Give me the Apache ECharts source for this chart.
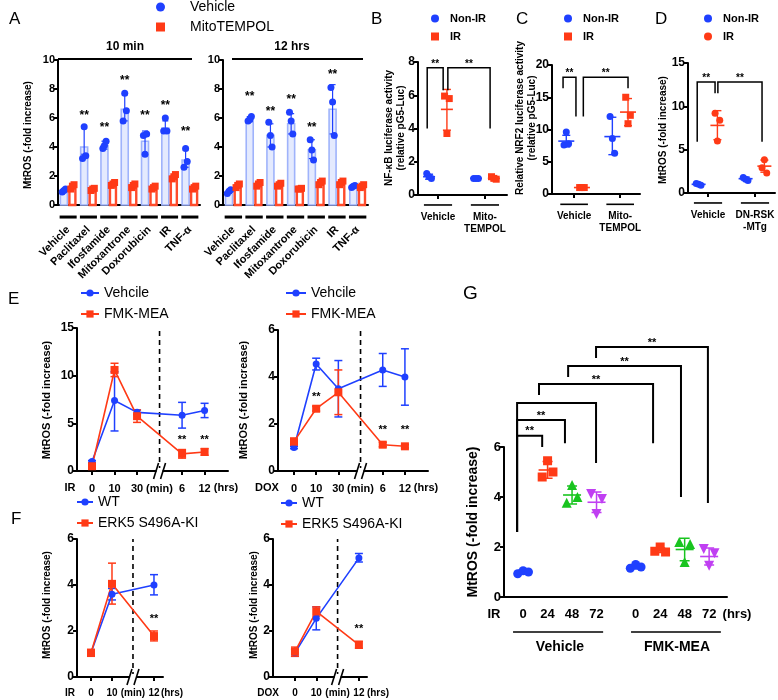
<!DOCTYPE html>
<html><head><meta charset="utf-8">
<script src="https://cdn.jsdelivr.net/npm/echarts@6/dist/echarts.min.js"></script>
<style>html,body{margin:0;padding:0;background:#fff}#c{width:778px;height:700px}</style>
</head><body><div id="c"></div>
<script>
// ================= DATA =================
// Panel A
const aCategories = ['Vehicle','Paclitaxel','Ifosfamide','Mitoxantrone','Doxorubicin','IR','TNF-α'];
const a10VehDots = [[0.9,1.0,1.1],[3.2,5.4,3.4],[3.9,4.1,4.4],[5.8,7.7,6.5],[4.8,3.5,4.9],[5.1,6.0,5.1],[2.6,3.9,3.0]];
const a10VehMean = [1.0,4.0,4.1,6.6,4.4,5.3,3.1];
const a10VehLo   = [0.9,3.5,3.85,5.8,3.6,5.0,2.6];
const a10VehHi   = [1.1,5.3,4.4,7.6,5.1,5.8,3.8];
const a10MitoDots = [[1.1,1.3,1.4],[1.0,1.1,1.15],[1.35,1.45,1.55],[1.2,1.35,1.45],[1.1,1.2,1.3],[1.8,1.95,2.1],[1.1,1.2,1.3]];
const a10MitoMean = [1.25,1.1,1.45,1.35,1.2,1.95,1.2];
const a10Stars = [null,6.3,5.5,8.7,6.3,7.0,5.2];
const a12VehDots = [[0.8,0.95,1.05],[5.8,5.9,6.1],[5.7,4.8,4.0],[6.4,5.8,4.9],[4.5,3.8,3.1],[8.1,7.1,4.8],[1.2,1.3,1.35]];
const a12VehMean = [0.9,5.9,4.8,5.6,3.8,6.6,1.3];
const a12VehLo   = [0.8,5.75,4.0,4.9,3.2,4.9,1.2];
const a12VehHi   = [1.0,6.1,5.6,6.3,4.5,8.3,1.4];
const a12MitoDots = [[1.2,1.35,1.45],[1.3,1.45,1.55],[1.3,1.4,1.5],[1.1,1.1,1.15],[1.4,1.55,1.65],[1.4,1.55,1.65],[1.2,1.3,1.4]];
const a12MitoMean = [1.3,1.4,1.4,1.1,1.5,1.5,1.3];
const a12Stars = [null,7.6,6.55,7.4,5.45,9.1,null];

// Panel B
const bLabels = ['Vehicle','Mito-\nTEMPOL'];
const bNonIRDots = [[1.3,1.1,1.0],[1.0,1.0,1.0]];
const bNonIRMean = [1.1,1.0], bNonIRLo = [0.95,0.97], bNonIRHi = [1.25,1.03];
const bIRDots = [[5.95,3.7,5.8],[1.1,1.0,0.95]];
const bIRMean = [5.15,1.0], bIRLo = [3.9,0.93], bIRHi = [6.35,1.08];
const bBrackets = [[0.77,1.11,7.65,4.0,6.3],[1.21,2.11,7.65,6.3,4.0]];

// Panel C
const cLabels = ['Vehicle','Mito-\nTEMPOL'];
const cNonIRDots = [[7.6,9.6,7.8],[12.0,8.6,6.3]];
const cNonIRMean = [8.2,8.9], cNonIRLo = [7.3,6.1], cNonIRHi = [9.1,11.9];
const cIRDots = [[1.0,1.0,1.0],[15.0,10.9,12.2]];
const cIRMean = [1.0,12.7], cIRLo = [0.9,10.6], cIRHi = [1.1,14.8];
const cBrackets = [[0.76,1.04,18.1,16.4,12.0],[1.2,2.17,18.1,12.0,16.4]];

// Panel D
const dLabels = ['Vehicle','DN-RSK\n-MTg'];
const dNonIRDots = [[1.1,1.0,0.9],[1.8,1.6,1.45]];
const dNonIRMean = [1.0,1.65], dNonIRLo = [0.9,1.45], dNonIRHi = [1.1,1.85];
const dIRDots = [[9.2,6.0,8.4],[2.9,3.85,2.3]];
const dIRMean = [7.8,3.1], dIRLo = [6.15,2.4], dIRHi = [9.5,3.8];
const dBrackets = [[0.77,1.15,12.8,5.9,11.5],[1.21,2.15,12.8,11.5,5.9]];

// Panel E
const eLabels = ['0','10','30','(min)','6','12'];
const eLeftVehMean = [1.0,7.4,6.15,5.85,6.35], eLeftVehLo = [0.9,4.2,5.9,4.5,5.6], eLeftVehHi = [1.1,10.4,6.4,7.2,7.1];
const eLeftFmkMean = [0.5,10.6,5.75,1.8,2.0], eLeftFmkLo = [0.35,9.9,5.1,1.35,1.65], eLeftFmkHi = [0.65,11.3,6.4,2.25,2.35];
const eLeftStars = [null,null,null,3.46,3.46];
const eRightVehMean = [1.0,4.55,3.5,4.3,4.0], eRightVehLo = [0.95,4.3,2.3,3.6,2.8], eRightVehHi = [1.05,4.8,4.7,5.0,5.2];
const eRightFmkMean = [1.25,2.65,3.35,1.12,1.05], eRightFmkLo = [1.1,2.55,2.4,1.03,0.98], eRightFmkHi = [1.4,2.75,4.3,1.22,1.12];
const eRightStars = [null,3.23,null,1.83,1.83];

// Panel F
const fLabels = ['0','10','(min)','12'];
const fLeftWtMean = [1.05,3.6,4.0], fLeftWtLo = [0.95,3.35,3.57], fLeftWtHi = [1.15,3.85,4.45];
const fLeftKiMean = [1.05,4.05,1.78], fLeftKiLo = [0.9,3.17,1.57], fLeftKiHi = [1.2,4.95,2.0];
const fLeftStars = [null,null,2.6];
const fRightWtMean = [1.05,2.55,5.17], fRightWtLo = [0.9,2.05,5.0], fRightWtHi = [1.2,3.05,5.37];
const fRightKiMean = [1.1,2.85,1.4], fRightKiLo = [0.9,2.65,1.25], fRightKiHi = [1.3,3.05,1.55];
const fRightStars = [null,null,2.17];

// Panel G
const gTimes = ['0','24','48','72'];
const gVehDots = [[0.93,1.05,1.0],[4.8,5.45,5.0],[3.77,4.48,4.0],[4.12,3.32,3.92]];
const gVehMean = [1.0,5.08,4.08,3.79], gVehLo = [0.93,4.75,3.72,3.38], gVehHi = [1.07,5.42,4.44,4.2];
const gFmkDots = [[1.15,1.3,1.2],[1.83,2.0,1.8],[2.2,1.4,2.12],[1.92,1.25,1.75]];
const gFmkMean = [1.2,1.87,1.9,1.62], gFmkLo = [1.12,1.78,1.45,1.28], gFmkHi = [1.28,1.96,2.35,1.96];
const gBrackets = [[-0.245,0.78,6.45,2.6,6.0,1],[-0.245,1.71,7.08,2.6,6.15,1],[-0.245,2.98,7.76,2.6,5.36,0],
                   [0.65,5.31,8.52,8.08,6.15,1],[1.84,6.45,9.24,8.8,4.0,1],[2.98,7.55,10.0,9.56,3.76,1]];

// ================= HELPERS =================
const FONT = '"Liberation Sans", Arial, Helvetica, sans-serif';
const BLUE = '#1f40ff', RED = '#ff3a16', GREEN = '#19c41f', PURPLE = '#c03ff2';
const option = {animation:false, backgroundColor:'#ffffff', textStyle:{fontFamily:FONT},
  grid:[], xAxis:[], yAxis:[], series:[], legend:[], graphic:[]};

function addGrid(left, top, width, height, xa, ya){
  option.grid.push({left, top, width, height, containLabel:false, outerBoundsMode:'none'});
  const gi = option.grid.length - 1;
  xa.gridIndex = gi; ya.gridIndex = gi;
  option.xAxis.push(xa); option.yAxis.push(ya);
  return gi;
}
function mkY(max, interval, fs){
  return {type:'value', min:0, max, interval,
    axisLine:{show:true, onZero:false, lineStyle:{color:'#000', width:2}},
    axisTick:{show:true, length:4, lineStyle:{color:'#000', width:2}},
    splitLine:{show:false},
    axisLabel:{color:'#000', fontWeight:'bold', fontSize:fs, fontFamily:FONT, margin:3}};
}
function mkX(min, max, tickVals, labelVals, labelTexts, fs, o){
  o = o || {};
  return {type:'value', min, max,
    axisLine:{show:true, onZero:false, lineStyle:{color:'#000', width:2}},
    axisTick:{show:tickVals.length > 0, customValues:tickVals, length:4, lineStyle:{color:'#000', width:2}},
    splitLine:{show:false},
    axisLabel:{show:true, customValues:labelVals,
      formatter:(v) => { const i = labelVals.findIndex(u => Math.abs(u - v) < 1e-6); return i >= 0 ? labelTexts[i] : ''; },
      color:'#000', fontWeight:'bold', fontSize:fs, fontFamily:FONT,
      margin:(o.margin != null ? o.margin : 8), rotate:(o.rotate || 0), lineHeight:(o.lineHeight || fs + 2)}};
}
function custom(gi, data, renderItem, z){
  option.series.push({type:'custom', xAxisIndex:gi, yAxisIndex:gi, data, renderItem, clip:false, silent:true, z:(z || 3)});
}
function errBars(gi, data, color, cap, lw){
  custom(gi, data, (p, api) => {
    const a = api.coord([api.value(0), api.value(1)]), b = api.coord([api.value(0), api.value(2)]);
    const st = {stroke:color, lineWidth:lw, fill:null};
    return {type:'group', children:[
      {type:'line', shape:{x1:a[0], y1:a[1], x2:b[0], y2:b[1]}, style:st},
      {type:'line', shape:{x1:a[0]-cap, y1:a[1], x2:a[0]+cap, y2:a[1]}, style:st},
      {type:'line', shape:{x1:b[0]-cap, y1:b[1], x2:b[0]+cap, y2:b[1]}, style:st}]};
  }, 4);
}
function meanLines(gi, data, color, half, lw){
  custom(gi, data, (p, api) => {
    const c = api.coord([api.value(0), api.value(1)]);
    return {type:'line', shape:{x1:c[0]-half, y1:c[1], x2:c[0]+half, y2:c[1]}, style:{stroke:color, lineWidth:lw}};
  }, 4);
}
function bars(gi, data, fill, stroke, w, lw){
  custom(gi, data, (p, api) => {
    const a = api.coord([api.value(0), 0]), b = api.coord([api.value(0), api.value(1)]);
    return {type:'rect', shape:{x:a[0]-w/2, y:b[1], width:w, height:a[1]-b[1]}, style:{fill, stroke, lineWidth:lw}};
  }, 2);
}
function hseg(gi, data, color, lw){
  custom(gi, data, (p, api) => {
    const a = api.coord([api.value(0), api.value(2)]), b = api.coord([api.value(1), api.value(2)]);
    return {type:'line', shape:{x1:a[0], y1:a[1], x2:b[0], y2:b[1]}, style:{stroke:color, lineWidth:lw}};
  }, 2);
}
function vDashed(gi, data){
  custom(gi, data, (p, api) => {
    const a = api.coord([api.value(0), api.value(1)]), b = api.coord([api.value(0), api.value(2)]);
    return {type:'line', shape:{x1:a[0], y1:a[1], x2:b[0], y2:b[1]}, style:{stroke:'#000', lineWidth:1.6, lineDash:[5,4]}};
  }, 1);
}
function breakMark(gi, data){
  custom(gi, data, (p, api) => {
    const c = api.coord([api.value(0), api.value(1)]); const x = c[0], y = c[1];
    const st = {stroke:'#000', lineWidth:1.6};
    return {type:'group', children:[
      {type:'rect', shape:{x:x-3, y:y-3, width:6, height:6}, style:{fill:'#fff'}},
      {type:'line', shape:{x1:x-6, y1:y+8, x2:x-1, y2:y-8}, style:st},
      {type:'line', shape:{x1:x+1, y1:y+8, x2:x+6, y2:y-8}, style:st}]};
  }, 8);
}
function starText(gi, data, fs, dy){
  custom(gi, data, (p, api) => {
    const c = api.coord([api.value(0), api.value(1)]);
    return {type:'text', x:c[0], y:c[1] + dy, style:{text:'**', fill:'#000', fontSize:fs, fontWeight:'bold', fontFamily:FONT,
      align:'center', verticalAlign:'middle', textAlign:'center', textVerticalAlign:'middle'}};
  }, 6);
}
function brackets(gi, data, lw, fs){
  custom(gi, data, (p, api) => {
    const x1 = api.value(0), x2 = api.value(1), t = api.value(2);
    const p1 = api.coord([x1, api.value(3)]), p2 = api.coord([x1, t]), p3 = api.coord([x2, t]), p4 = api.coord([x2, api.value(4)]);
    const ch = [{type:'polyline', shape:{points:[p1,p2,p3,p4]}, style:{stroke:'#000', lineWidth:lw, fill:null}}];
    const showStar = api.value(5);
    if (showStar !== 0) ch.push({type:'text', x:(p2[0]+p3[0])/2, y:p2[1]+1, style:{text:'**', fill:'#000', fontSize:fs, fontWeight:'bold', fontFamily:FONT,
      align:'center', verticalAlign:'bottom', textAlign:'center', textVerticalAlign:'bottom'}});
    return {type:'group', children:ch};
  }, 6);
}
function scatter(gi, name, data, color, symbol, size, rot){
  option.series.push({type:'scatter', name, xAxisIndex:gi, yAxisIndex:gi, data, symbol, symbolSize:size, symbolRotate:(rot || 0),
    itemStyle:{color, opacity:1}, z:5, silent:true});
}
function lineSeries(gi, name, xs, ys, color, symbol, size){
  option.series.push({type:'line', name, xAxisIndex:gi, yAxisIndex:gi, data:xs.map((x,i) => [x, ys[i]]),
    symbol, symbolSize:size, showSymbol:true, showAllSymbol:true, lineStyle:{color, width:1.6}, itemStyle:{color, opacity:1}, z:5, silent:true});
}
function gText(x, y, text, size, weight, align, rotation, lh){
  option.graphic.push({type:'text', x, y, rotation:(rotation || 0), silent:true, z:10,
    style:{text, fill:'#000', fontSize:size, fontWeight:(weight || 'normal'), fontFamily:FONT, lineHeight:(lh || size + 2),
      align:(align || 'left'), verticalAlign:'middle', textAlign:(align || 'left'), textVerticalAlign:'middle'}});
}
function gLine(x1, y1, x2, y2, w){
  option.graphic.push({type:'line', silent:true, z:10, shape:{x1, y1, x2, y2}, style:{stroke:'#000', lineWidth:w}});
}
function legend(left, top, names, w, h, gap, fs, weight, padLeft){
  option.legend.push({show:true, left, top, orient:'vertical', data:names, itemWidth:w, itemHeight:h, itemGap:gap,
    selectedMode:false, padding:0, formatter:(n) => n.trim(),
    textStyle:{color:'#000', fontSize:fs, fontWeight:weight, fontFamily:FONT, padding:[0,0,0,(padLeft || 0)]}});
}
const idx = (arr) => arr.map((_, i) => i);

// ================= PANEL A =================
function buildA(left, width, vDots, vMean, vLo, vHi, mDots, mMean, stars){
  const gi = addGrid(left, 60, width, 145,
    mkX(-0.5, 6.5, [], idx(aCategories), aCategories, 11, {rotate:45, margin:23}), mkY(10, 2, 11));
  const bx = (i) => i - 0.21, rx = (i) => i + 0.21;
  const off = [-0.08, 0, 0.08];
  bars(gi, vMean.map((v,i) => [bx(i), v]), '#e4eafe', '#9fb3fb', 7, 1.6);
  bars(gi, mMean.map((v,i) => [rx(i), v]), '#ffffff', '#ff4b2b', 6, 2.4);
  errBars(gi, vMean.map((v,i) => [bx(i), vLo[i], vHi[i]]), BLUE, 3, 1.2);
  hseg(gi, aCategories.map((_, i) => [i - 0.42, i + 0.42, -0.83]), '#000', 3);
  scatter(gi, 'Vehicle', vDots.flatMap((d,i) => d.map((v,j) => [bx(i) + off[j], v])), BLUE, 'circle', 7);
  scatter(gi, 'MitoTEMPOL', mDots.flatMap((d,i) => d.map((v,j) => [rx(i) + off[j], v])), RED, 'rect', 7);
  starText(gi, stars.map((s,i) => s == null ? null : [bx(i), s]).filter(Boolean), 12, 2);
}
buildA(58, 142, a10VehDots, a10VehMean, a10VehLo, a10VehHi, a10MitoDots, a10MitoMean, a10Stars);
buildA(223, 145, a12VehDots, a12VehMean, a12VehLo, a12VehHi, a12MitoDots, a12MitoMean, a12Stars);
legend(156, 0, ['Vehicle','MitoTEMPOL'], 9, 9, 6, 14, 'normal', 20);
gText(9, 19, 'A', 17);
gText(125, 47, '10 min', 12, 'bold', 'center'); gLine(58, 59, 192, 59, 2);
gText(292, 47, '12 hrs', 12, 'bold', 'center'); gLine(232, 59, 363, 59, 2);
gText(28, 135, 'MtROS (-fold increase)', 10, 'bold', 'center', Math.PI/2);

// ================= PANELS B, C, D =================
function buildDot(gi, labelsArr, nDots, nMean, nLo, nHi, iDots, iMean, iLo, iHi, nName, iName, iSym, spread, half, br, dashY){
  const nx = (g) => g + 1 - spread, ix = (g) => g + 1 + spread;
  const off = [-0.05, 0, 0.05];
  hseg(gi, labelsArr.map((_, g) => [g + 1 - 0.3, g + 1 + 0.3, dashY]), '#000', 1.6);
  errBars(gi, nMean.map((m,g) => [nx(g), nLo[g], nHi[g]]), BLUE, 4, 1.4);
  meanLines(gi, nMean.map((m,g) => [nx(g), m]), BLUE, half, 1.6);
  errBars(gi, iMean.map((m,g) => [ix(g), iLo[g], iHi[g]]), RED, 4, 1.4);
  meanLines(gi, iMean.map((m,g) => [ix(g), m]), RED, half, 1.6);
  scatter(gi, nName, nDots.flatMap((d,g) => d.map((v,j) => [nx(g) + off[j], v])), BLUE, 'circle', 7);
  scatter(gi, iName, iDots.flatMap((d,g) => d.map((v,j) => [ix(g) + off[j], v])), RED, iSym, 7);
  brackets(gi, br.map((b) => b.concat([1])), 1.5, 10);
}
const gB = addGrid(418, 62, 89, 133, mkX(0.574, 2.47, [1,2], [1,2], bLabels, 10, {margin:16, lineHeight:12}), mkY(8, 2, 12));
buildDot(gB, bLabels, bNonIRDots, bNonIRMean, bNonIRLo, bNonIRHi, bIRDots, bIRMean, bIRLo, bIRHi, 'Non-IR', 'IR', 'rect', 0.19, 6, bBrackets, -0.6);
legend(431, 13, ['Non-IR','IR'], 8, 8, 7, 11, 'bold', 6);
gText(371, 19, 'B', 17);
gText(395, 128, 'NF-κB luciferase activity\n(relative pG5-Luc)', 10, 'bold', 'center', Math.PI/2, 12);

const gC = addGrid(552, 65, 88, 129, mkX(0.52, 2.43, [1,2], [1,2], cLabels, 10, {margin:16, lineHeight:12}), mkY(20, 5, 12));
buildDot(gC, cLabels, cNonIRDots, cNonIRMean, cNonIRLo, cNonIRHi, cIRDots, cIRMean, cIRLo, cIRHi, 'Non-IR ', 'IR ', 'rect', 0.17, 8, cBrackets, -1.6);
legend(564, 13, ['Non-IR ','IR '], 8, 8, 7, 11, 'bold', 6);
gText(516, 19, 'C', 17);
gText(526, 118, 'Relative NRF2 luciferase activity\n(relative pG5-Luc)', 10, 'bold', 'center', Math.PI/2, 12);

const gD = addGrid(688, 63, 87, 130, mkX(0.574, 2.426, [1,2], [1,2], dLabels, 10, {margin:16, lineHeight:12}), mkY(15, 5, 12));
buildDot(gD, dLabels, dNonIRDots, dNonIRMean, dNonIRLo, dNonIRHi, dIRDots, dIRMean, dIRLo, dIRHi, 'Non-IR  ', 'IR  ', 'circle', 0.2, 7, dBrackets, -1.15);
legend(704, 13, ['Non-IR  ','IR  '], 8, 8, 7, 11, 'bold', 6);
gText(655, 19, 'D', 17);
gText(663, 130, 'MtROS (-fold increase)', 10, 'bold', 'center', Math.PI/2);

// ================= PANELS E, F =================
function buildLine(gi, xs, aM, aL, aH, bM, bL, bH, aName, bName, brk, yMax, stars){
  vDashed(gi, [[brk, 0, yMax]]);
  errBars(gi, xs.map((x,i) => [x, aL[i], aH[i]]), BLUE, 4, 1.5);
  lineSeries(gi, aName, xs, aM, BLUE, 'circle', 7);
  errBars(gi, xs.map((x,i) => [x, bL[i], bH[i]]), RED, 4, 1.5);
  lineSeries(gi, bName, xs, bM, RED, 'rect', 8);
  breakMark(gi, [[brk, 0]]);
  starText(gi, stars.map((s,i) => s == null ? null : [xs[i], s]).filter(Boolean), 11, 2);
}
const ePos = [0,1,2,4,5], eLblPos = [0,1,2,3,4,5];
const gE1 = addGrid(77, 328, 151, 143, mkX(-0.667, 6.04, ePos, eLblPos, eLabels, 11, {margin:11}), mkY(15, 5, 12));
buildLine(gE1, ePos, eLeftVehMean, eLeftVehLo, eLeftVehHi, eLeftFmkMean, eLeftFmkLo, eLeftFmkHi, 'Vehcile', 'FMK-MEA', 3, 15, eLeftStars);
legend(80, 286, ['Vehcile','FMK-MEA'], 18, 9, 7, 14, 'normal');
gText(8, 299, 'E', 17);
gText(70, 488, 'IR', 11, 'bold', 'center');
gText(226, 488, '(hrs)', 11, 'bold', 'center');
gText(47, 400, 'MtROS (-fold increase)', 11, 'bold', 'center', Math.PI/2);

const gE2 = addGrid(278, 330, 150, 141, mkX(-0.72, 6.04, ePos, eLblPos, eLabels, 11, {margin:11}), mkY(6, 2, 12));
buildLine(gE2, ePos, eRightVehMean, eRightVehLo, eRightVehHi, eRightFmkMean, eRightFmkLo, eRightFmkHi, 'Vehcile ', 'FMK-MEA ', 3, 6, eRightStars);
legend(285, 286, ['Vehcile ','FMK-MEA '], 20, 9, 7, 14, 'normal');
gText(267, 488, 'DOX', 11, 'bold', 'center');
gText(426, 488, '(hrs)', 11, 'bold', 'center');
gText(244, 400, 'MtROS (-fold increase)', 11, 'bold', 'center', Math.PI/2);

const fPos = [0,1,3], fLblPos = [0,1,2,3];
const gF1 = addGrid(77, 539, 86, 138, mkX(-0.667, 3.43, fPos, fLblPos, fLabels, 10, {margin:10}), mkY(6, 2, 12));
buildLine(gF1, fPos, fLeftWtMean, fLeftWtLo, fLeftWtHi, fLeftKiMean, fLeftKiLo, fLeftKiHi, 'WT', 'ERK5 S496A-KI', 2, 6, fLeftStars);
legend(76, 495, ['WT','ERK5 S496A-KI'], 16, 9, 7, 14, 'normal');
gText(11, 519, 'F', 17);
gText(70, 693, 'IR', 10, 'bold', 'center');
gText(172, 693, '(hrs)', 10, 'bold', 'center');
gText(47, 605, 'MtROS (-fold increase)', 10, 'bold', 'center', Math.PI/2);

const gF2 = addGrid(273, 539, 94, 138, mkX(-1.03, 3.38, fPos, fLblPos, fLabels, 10, {margin:10}), mkY(6, 2, 12));
buildLine(gF2, fPos, fRightWtMean, fRightWtLo, fRightWtHi, fRightKiMean, fRightKiLo, fRightKiHi, 'WT ', 'ERK5 S496A-KI ', 2, 6, fRightStars);
legend(280, 496, ['WT ','ERK5 S496A-KI '], 16, 9, 7, 14, 'normal');
gText(268, 693, 'DOX', 10, 'bold', 'center');
gText(378, 693, '(hrs)', 10, 'bold', 'center');
gText(254, 605, 'MtROS (-fold increase)', 10, 'bold', 'center', Math.PI/2);

// ================= PANEL G =================
const gVehPos = [0,1,2,3], gFmkPos = [4.6,5.6,6.6,7.6];
const gG = addGrid(504, 447, 223, 150,
  mkX(-0.78, 8.33, [], gVehPos.concat(gFmkPos), gTimes.concat(gTimes), 13, {margin:10}), mkY(6, 2, 13));
const gColors = [BLUE, RED, GREEN, PURPLE];
const gSyms = ['circle','rect','triangle','triangle'], gRot = [0,0,0,180], gSize = [9,9,10,10];
const gOff = [-0.22, 0, 0.22];
for (let t = 0; t < 4; t++) {
  errBars(gG, [[gVehPos[t], gVehLo[t], gVehHi[t]], [gFmkPos[t], gFmkLo[t], gFmkHi[t]]], gColors[t], 5, 1.5);
  meanLines(gG, [[gVehPos[t], gVehMean[t]], [gFmkPos[t], gFmkMean[t]]], gColors[t], 9, 1.6);
  const pts = gVehDots[t].map((v,j) => [gVehPos[t] + gOff[j], v]).concat(gFmkDots[t].map((v,j) => [gFmkPos[t] + gOff[j], v]));
  scatter(gG, 'G' + gTimes[t], pts, gColors[t], gSyms[t], gSize[t], gRot[t]);
}
brackets(gG, gBrackets, 2, 11);
hseg(gG, [[-0.41, 3.27, -1.4], [4.41, 8.08, -1.4]], '#000', 1.6);
gText(463, 294, 'G', 19);
gText(494, 614, 'IR', 13, 'bold', 'center');
gText(737, 614, '(hrs)', 13, 'bold', 'center');
gText(560, 647, 'Vehicle', 14, 'bold', 'center');
gText(677, 647, 'FMK-MEA', 14, 'bold', 'center');
gText(473, 522, 'MtROS (-fold increase)', 14, 'bold', 'center', Math.PI/2);

const chart = echarts.init(document.getElementById('c'), null, {renderer:'canvas'});
chart.setOption(option);
</script>
</body></html>
